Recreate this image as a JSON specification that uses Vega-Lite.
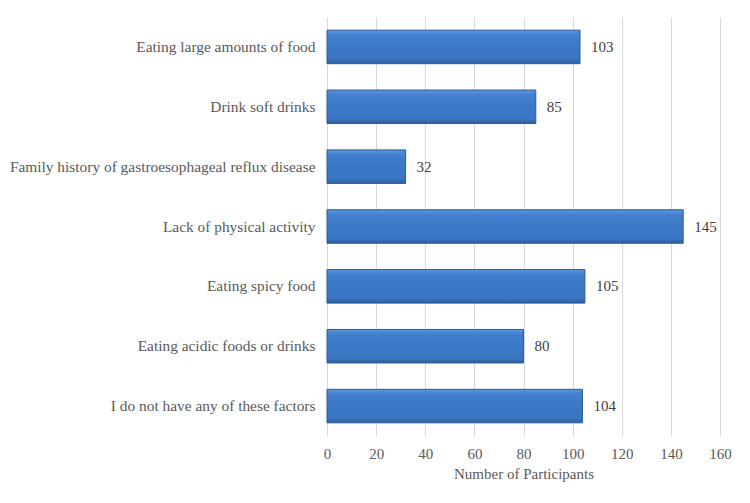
{
  "$schema": "https://vega.github.io/schema/vega-lite/v6.json",
  "width": 393,
  "height": 419,
  "autosize": {"type": "none"},
  "padding": {"left": 327, "top": 17, "right": 30, "bottom": 67},
  "background": "white",
  "config": {
    "view": {"stroke": null},
    "font": "Liberation Serif",
    "axis": {"labelFont": "Liberation Serif", "titleFont": "Liberation Serif"}
  },
  "data": {
    "values": [
      {"factor": "Eating large amounts of food", "participants": 103},
      {"factor": "Drink soft drinks", "participants": 85},
      {"factor": "Family history of gastroesophageal reflux disease", "participants": 32},
      {"factor": "Lack of physical activity", "participants": 145},
      {"factor": "Eating spicy food", "participants": 105},
      {"factor": "Eating acidic foods or drinks", "participants": 80},
      {"factor": "I do not have any of these factors", "participants": 104}
    ]
  },
  "encoding": {
    "y": {
      "field": "factor",
      "type": "nominal",
      "sort": null,
      "scale": {"paddingInner": 0.44, "paddingOuter": 0.22},
      "axis": {
        "title": null,
        "domain": false,
        "ticks": false,
        "labelPadding": 12,
        "labelFontSize": 15.4,
        "labelColor": "#595959",
        "labelLimit": 330
      }
    },
    "x": {
      "field": "participants",
      "type": "quantitative",
      "scale": {"domain": [0, 160], "nice": false},
      "axis": {
        "title": "Number of Participants",
        "values": [0, 20, 40, 60, 80, 100, 120, 140, 160],
        "domain": false,
        "ticks": false,
        "grid": true,
        "gridColor": "#d9d9d9",
        "gridWidth": 1,
        "labelFlush": false,
        "labelPadding": 10,
        "labelFontSize": 15,
        "labelColor": "#595959",
        "titleFontSize": 15,
        "titleFontWeight": "normal",
        "titleColor": "#595959",
        "titlePadding": 5
      }
    }
  },
  "layer": [
    {
      "mark": {
        "type": "bar",
        "stroke": "#2c5c97",
        "strokeWidth": 1,
        "color": {
          "gradient": "linear",
          "x1": 0, "y1": 0, "x2": 0, "y2": 1,
          "stops": [
            {"offset": 0, "color": "#5c97dc"},
            {"offset": 0.15, "color": "#4180cf"},
            {"offset": 0.5, "color": "#3b78c6"},
            {"offset": 0.85, "color": "#3a76c2"},
            {"offset": 1, "color": "#2d5e9d"}
          ]
        }
      }
    },
    {
      "mark": {
        "type": "text",
        "align": "left",
        "dx": 11,
        "fontSize": 15,
        "color": "#404040"
      },
      "encoding": {"text": {"field": "participants", "type": "quantitative"}}
    }
  ]
}
